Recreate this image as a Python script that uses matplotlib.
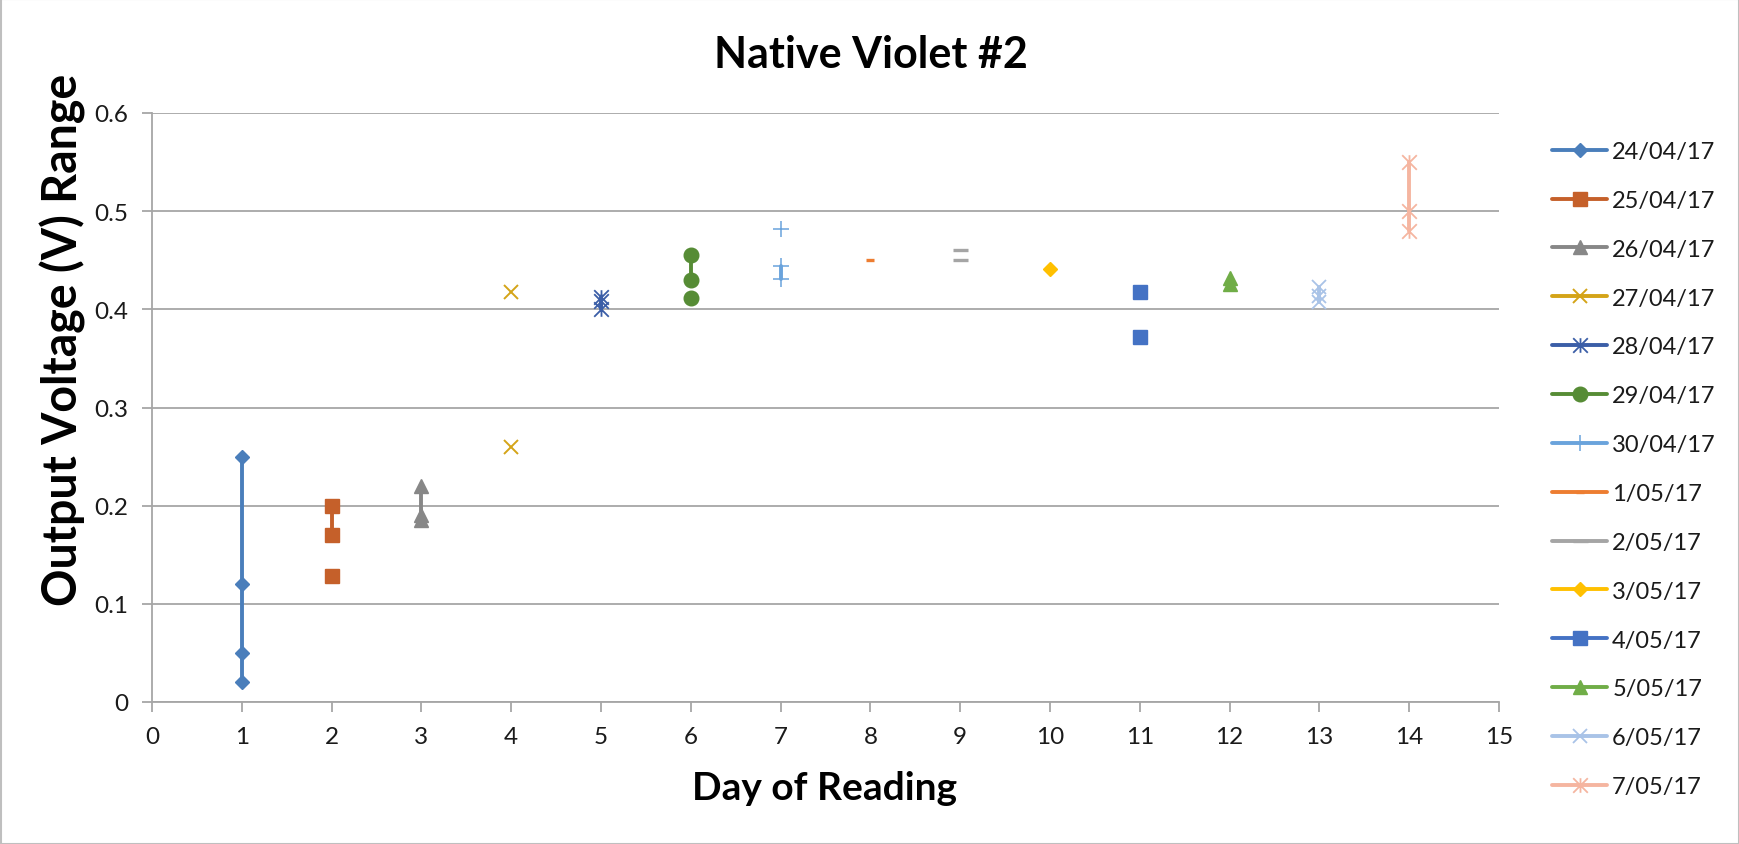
import numpy as np
import matplotlib
matplotlib.use("Agg")
import matplotlib.pyplot as plt
from matplotlib.path import Path

plt.rcParams["font.family"] = ["Lato", "DejaVu Sans"]

# ---- data -------------------------------------------------------------
dates = ["24/04/17", "25/04/17", "26/04/17", "27/04/17", "28/04/17",
         "29/04/17", "30/04/17", "1/05/17", "2/05/17", "3/05/17",
         "4/05/17", "5/05/17", "6/05/17", "7/05/17"]
days = [1, 2, 3, 4, 5, 6, 7, 8, 9, 10, 11, 12, 13, 14]

# readings per day (nan = break in the connecting line)
v_2404 = [0.25, 0.12, 0.05, 0.02]
v_2504 = [0.20, 0.17, np.nan, 0.128]
v_2604 = [0.22, 0.19, 0.185]
v_2704 = [0.418, np.nan, 0.26]
v_2804 = [0.413, 0.408, 0.40]
v_2904 = [0.455, 0.43, np.nan, 0.412]
v_3004 = [0.482, np.nan, 0.444, 0.431]
v_0105 = [0.45]
v_0205 = [0.46, np.nan, 0.45]
v_0305 = [0.441]
v_0405 = [0.418, np.nan, 0.372]
v_0505 = [0.432, 0.426]
v_0605 = [0.423, 0.414, 0.407]
v_0705 = [0.55, 0.50, 0.48]

values = [v_2404, v_2504, v_2604, v_2704, v_2804, v_2904, v_3004,
          v_0105, v_0205, v_0305, v_0405, v_0505, v_0605, v_0705]

x_ticks = list(range(0, 16))
y_ticks = [0, 0.1, 0.2, 0.3, 0.4, 0.5, 0.6]
y_tick_labels = ["0", "0.1", "0.2", "0.3", "0.4", "0.5", "0.6"]

# ---- styles -----------------------------------------------------------
star = Path([(-0.5, -0.5), (0.5, 0.5), (-0.5, 0.5), (0.5, -0.5), (0, -0.5), (0, 0.5)],
            [Path.MOVETO, Path.LINETO, Path.MOVETO, Path.LINETO, Path.MOVETO, Path.LINETO])

colors = ["#4a7ebb", "#c5602a", "#878787", "#d4a418", "#3b5ea7", "#568c35",
          "#6aa3dc", "#ed7d31", "#a5a5a5", "#ffc000", "#4472c4", "#70ad47",
          "#a9c3e7", "#f5b5a0"]
markers = ["D", "s", "^", "x", star, "o", "+", "_", "_", "D", "s", "^", "x", star]
msizes = [7, 10, 10, 10.5, 10.5, 10.5, 12, 5.8, 10.8, 7, 10, 10, 10.5, 10.5]
mews = [1, 1, 1, 1.4, 1.3, 1, 1.1, 2.4, 2.4, 1, 1, 1, 1.3, 1.3]

fig = plt.figure(figsize=(17.4, 8.45), dpi=100)
ax = fig.add_axes([152 / 1740, 1 - 703 / 845, (1499 - 152) / 1740, (703 - 114) / 845])

grid_c = "#a6a6a6"
text_c = "#1a1a1a"
for i, (lab, d, vals) in enumerate(zip(dates, days, values)):
    ax.plot([d] * len(vals), vals, color=colors[i], lw=2.8,
            marker=markers[i], ms=msizes[i], mew=mews[i],
            mec=colors[i], mfc=colors[i], label=lab, zorder=3,
            solid_capstyle="round")

ax.set_xlim(0, 15)
ax.set_ylim(0, 0.6)
ax.set_xticks(x_ticks)
ax.set_yticks(y_ticks)
ax.set_yticklabels(y_tick_labels)
ax.yaxis.grid(True, color=grid_c, lw=1.3)
ax.set_axisbelow(True)
for s in ["top", "right"]:
    ax.spines[s].set_visible(False)
for s in ["left", "bottom"]:
    ax.spines[s].set_color(grid_c)
    ax.spines[s].set_linewidth(1.3)
ax.tick_params(axis="both", direction="out", length=7, width=1.3, color=grid_c,
               labelsize=17.5, labelcolor=text_c)
ax.tick_params(axis="x", pad=10)
ax.tick_params(axis="y", pad=10)

fig.text(825 / 1740, 1 - 789 / 845, "Day of Reading", fontsize=28, fontweight="bold",
         ha="center", va="center", color="black")
fig.text(63 / 1740, 1 - 340 / 845, "Output Voltage (V) Range", fontsize=33.5,
         fontweight="bold", rotation=90, ha="center", va="center", color="black")
fig.text(871 / 1740, 1 - 55 / 845, "Native Violet #2", fontsize=31, fontweight="bold",
         ha="center", va="center", color="black")

leg = fig.legend(loc="upper left", bbox_to_anchor=(1552 / 1740, 1 - 142 / 845),
                 frameon=False, fontsize=17, handlelength=2.33, handletextpad=0.22,
                 labelspacing=1.18, borderpad=0, borderaxespad=0)
for t in leg.get_texts():
    t.set_color(text_c)

# chart border
fig.patches.append(plt.Rectangle((0.0005, 0.0005), 0.999, 0.999, transform=fig.transFigure,
                                 fill=False, edgecolor="#bfbfbf", lw=1.5))

fig.savefig("out.png", dpi=100)
